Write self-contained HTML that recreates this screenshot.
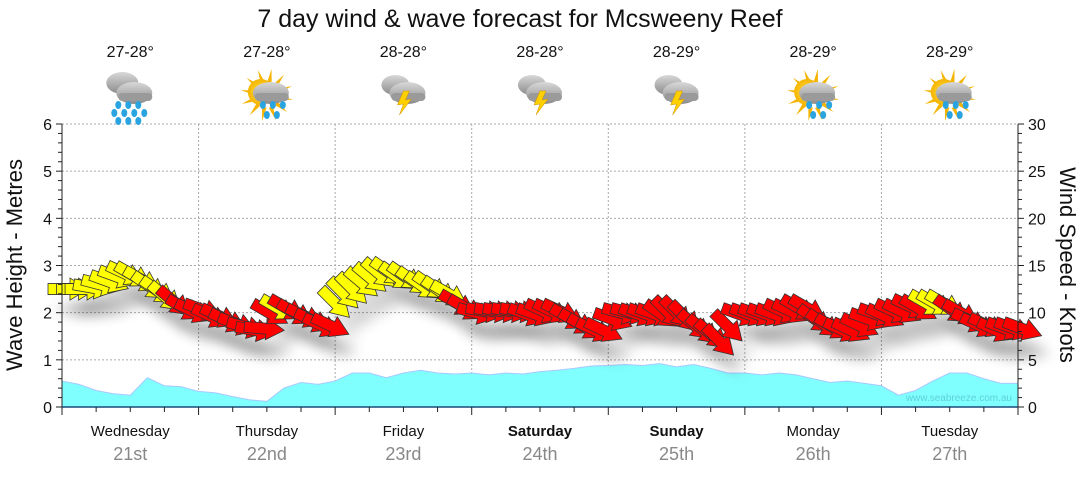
<!DOCTYPE html>
<html><head><meta charset="utf-8">
<style>
body{margin:0;background:#fff;font-family:"Liberation Sans",sans-serif;}
svg text{font-family:"Liberation Sans",sans-serif;}
</style></head>
<body>
<svg id="chart" width="1080" height="475" xmlns="http://www.w3.org/2000/svg">
<defs>
<filter id="sh" x="-50%" y="-50%" width="200%" height="250%"><feGaussianBlur stdDeviation="6"/></filter>
<radialGradient id="sun"><stop offset="0" stop-color="#ffe24a"/><stop offset="1" stop-color="#f5b400"/></radialGradient>
<linearGradient id="cl" x1="0" y1="0" x2="0" y2="1"><stop offset="0" stop-color="#d8d8d8"/><stop offset="1" stop-color="#8a8a8a"/></linearGradient>
</defs>
<text x="520" y="27" font-size="25" text-anchor="middle" fill="#111">7 day wind &amp; wave forecast for Mcsweeny Reef</text>
<g id="grid"></g>
<g id="wave"></g>
<g id="shadows"></g>
<g id="arrows"></g>
<g id="axes"></g>
<g id="icons"></g>
<text x="1012" y="401" font-size="10" text-anchor="end" fill="#5fd0d8">www.seabreeze.com.au</text>
<text transform="translate(22,265) rotate(-90)" font-size="22" text-anchor="middle" fill="#111">Wave Height - Metres</text>
<text transform="translate(1060,265) rotate(90)" font-size="22" text-anchor="middle" fill="#111">Wind Speed - Knots</text>
</svg>
<script>
const days=["Wednesday","Thursday","Friday","Saturday","Sunday","Monday","Tuesday"];
const dates=["21st","22nd","23rd","24th","25th","26th","27th"];
const boldDays=[false,false,false,true,true,false,false];
const temps=["27-28°","27-28°","28-28°","28-28°","28-29°","28-29°","28-29°"];
const icons=["rain","sunrain","storm","storm","storm","sunrain","sunrain"];
const waveTicks=[0,1,2,3,4,5,6];
const windTicks=[0,5,10,15,20,25,30];
const waveHeights=[0.55,0.48,0.35,0.28,0.25,0.62,0.45,0.43,
0.33,0.3,0.22,0.15,0.12,0.4,0.52,0.48,
0.55,0.72,0.72,0.62,0.72,0.78,0.72,0.7,
0.72,0.68,0.72,0.7,0.75,0.78,0.82,0.87,
0.88,0.9,0.88,0.92,0.85,0.9,0.82,0.72,
0.72,0.68,0.72,0.68,0.6,0.52,0.55,0.5,
0.45,0.25,0.35,0.55,0.72,0.72,0.6,0.5,0.5];
const windSpeeds=[12.5,12.5,12.5,13,13.5,14,14.5,15,15,14.5,14,13.5,13,12.5,11.5,11,
11,10.5,10.5,10,9.5,9,8.5,8.5,11,11.5,11.5,11,10.5,10,9.5,9.5,
12.5,13.5,14,14.5,15,15.5,15.5,15,15,14.5,14,14,13.5,13,12,11.5,
10.5,10.5,10.5,10.5,10.5,10.5,10.5,10.5,11,11,11,10.5,10,9.5,9,9,
10,10.5,10.5,10.5,10.5,10.5,11,11.5,11.5,11,10,9.5,9,8.5,10,10.5,
10.5,10.5,10.5,10.5,11,11,11.5,11.5,10.5,10,9.5,9,9,9.5,10,10.5,
10.5,11,11,11.5,11.5,12,12,12,11.5,11,10,9.5,9.5,9,9,9,9];
const windDirs=[0,0,0,10,15,20,20,25,30,30,35,35,40,40,30,25,
20,25,25,25,20,15,10,5,30,30,30,30,25,25,25,25,
45,45,45,40,40,40,35,35,35,35,35,35,35,30,30,30,
15,10,10,10,10,10,20,20,25,25,25,30,30,30,25,25,
20,15,15,20,20,20,35,45,45,45,40,40,40,45,45,20,
20,20,20,20,25,25,30,30,35,35,30,25,25,25,20,20,
25,25,25,25,30,30,30,30,35,30,25,25,25,25,20,20,20];
const windGust=[1,1,1,1,1,1,1,1,1,1,1,1,1,0,0,0,
0,0,0,0,0,0,0,0,0,1,0,0,0,0,0,0,
1,1,1,1,1,1,1,1,1,1,1,1,1,1,0,0,
0,0,0,0,0,0,0,0,0,0,0,0,0,0,0,0,
0,0,0,0,0,0,0,0,0,0,0,0,0,0,0,0,
0,0,0,0,0,0,0,0,0,0,0,0,0,0,0,0,
0,0,0,0,0,1,1,1,0,0,0,0,0,0,0,0,0];

const NS="http://www.w3.org/2000/svg";
const X0=62,X1=1018,Y0=407,Y1=124;
const xIdx=i=>X0+(X1-X0)*i/(waveHeights.length-1);
const xWind=i=>X0+(X1-X0)*i/(windSpeeds.length-1);
const yW=v=>Y0-(Y0-Y1)*v/6;
const yK=v=>Y0-(Y0-Y1)*v/30;
function mk(tag,attrs,parent){const e=document.createElementNS(NS,tag);for(const k in attrs)e.setAttribute(k,attrs[k]);parent.appendChild(e);return e;}
const grid=document.getElementById('grid'),axes=document.getElementById('axes');
const dw=(X1-X0)/7;
waveTicks.forEach(t=>{if(t>0){const l=mk('line',{x1:X0,x2:X1,y1:yW(t),y2:yW(t),stroke:'#aaa','stroke-dasharray':'2,2'},grid);

}});
for(let d=1;d<7;d++){const l=mk('line',{x1:X0+d*dw,x2:X0+d*dw,y1:Y1,y2:Y0,stroke:'#aaa','stroke-dasharray':'2,2'},grid);

}
let pts=`${X0},${Y0} `+waveHeights.map((v,i)=>`${xIdx(i)},${yW(v)}`).join(' ')+` ${X1},${Y0}`;
const wa=mk('polygon',{points:pts,fill:'#80ffff',stroke:'#a8c8ff','stroke-width':1},document.getElementById('wave'));


const arrowPath="M0,-5.5 L22,-5.5 L22,-11 L40,0 L22,11 L22,5.5 L0,5.5 Z";
const shg=document.getElementById('shadows'),ag=document.getElementById('arrows');
windSpeeds.forEach((v,i)=>{
 const x=xWind(i),y=yK(v);
 const s=mk('path',{d:arrowPath,fill:'#000','fill-opacity':0.12,filter:'url(#sh)',transform:`translate(${x-4},${y+20}) rotate(${windDirs[i]})`},shg);
 
 
});
windSpeeds.forEach((v,i)=>{
 const x=xWind(i),y=yK(v);
 const a=mk('path',{d:arrowPath,fill:windGust[i]?'#ffff00':'#ff0000',stroke:'#333','stroke-width':0.8,transform:`translate(${x-14},${y}) rotate(${windDirs[i]})`},ag);
 
 
});
mk('line',{x1:X0,x2:X0,y1:Y1,y2:Y0+4,stroke:'#222'},axes);
mk('line',{x1:X1,x2:X1,y1:Y1,y2:Y0+4,stroke:'#222'},axes);
mk('line',{x1:X0,x2:X1,y1:Y0,y2:Y0,stroke:'#1a4a7a','stroke-width':1.5},axes);
for(let v=0;v<=6.001;v+=0.2){const y=yW(v);const maj=Math.abs(v-Math.round(v))<0.01;mk('line',{x1:X0-(maj?6:4),x2:X0,y1:y,y2:y,stroke:'#222'},axes);}
waveTicks.forEach(t=>{const tx=mk('text',{x:X0-10,y:yW(t)+6,'font-size':16,'text-anchor':'end',fill:'#111'},axes);tx.textContent=t;

});
for(let v=0;v<=30;v++){const y=yK(v);mk('line',{x1:X1,x2:X1+(v%5==0?6:4),y1:y,y2:y,stroke:'#222'},axes);}
windTicks.forEach(t=>{const tx=mk('text',{x:X1+10,y:yK(t)+6,'font-size':16,'text-anchor':'start',fill:'#111'},axes);tx.textContent=t;

});
for(let h=0;h<=28;h++){const x=X0+h*dw/4;mk('line',{x1:x,x2:x,y1:Y0,y2:Y0+(h%4==0?8:5),stroke:'#222'},axes);}
days.forEach((d,i)=>{const cx=X0+dw*(i+0.5);
 const t=mk('text',{x:cx,y:436,'font-size':15,'text-anchor':'middle',fill:'#111','font-weight':boldDays[i]?'bold':'normal'},axes);t.textContent=d;
 
 
 const t2=mk('text',{x:cx,y:460,'font-size':18,'text-anchor':'middle',fill:'#888'},axes);t2.textContent=dates[i];
 
 
 const t3=mk('text',{x:cx,y:57,'font-size':16,'text-anchor':'middle',fill:'#111'},document.getElementById('icons'));t3.textContent=temps[i];
 
 
 const g=mk('g',{transform:`translate(${cx},95)`},document.getElementById('icons'));
 
 
 const k=icons[i];
 if(k==='sunrain'){for(let r=0;r<12;r++){mk('path',{d:'M-6,-11 L-9,-25 L-2,-13 Z',fill:'#f5b400',transform:`rotate(${r*30})`},g);}mk('circle',{cx:-6,cy:-3,r:13,fill:'url(#sun)'},g);}
 if(k==='rain'){mk('ellipse',{cx:-8,cy:-12,rx:16,ry:11,fill:'url(#cl)'},g);}
 if(k==='storm'){mk('ellipse',{cx:-8,cy:-10,rx:14,ry:10,fill:'url(#cl)'},g);}
 mk('ellipse',{cx:4,cy:-2,rx:18,ry:11,fill:'url(#cl)'},g);
 mk('rect',{x:-12,y:-2,width:34,height:8,rx:4,fill:'#9a9a9a'},g);
 if(k==='storm'){mk('path',{d:'M0,-4 L-6,10 L0,9 L-4,20 L8,4 L2,5 L6,-4 Z',fill:'#ffd000',stroke:'#d09000','stroke-width':0.5},g);}
 else{const drops=k==='rain'?[[-12,10],[-2,10],[8,10],[-16,18],[-6,18],[4,18],[14,18],[-12,26],[-2,26],[8,26]]:[[-4,10],[6,10],[16,10],[0,20],[10,20]];
  drops.forEach(p=>mk('ellipse',{cx:p[0],cy:p[1],rx:3,ry:4,fill:'#2aa4e0'},g));}
});
</script>
</body></html>
